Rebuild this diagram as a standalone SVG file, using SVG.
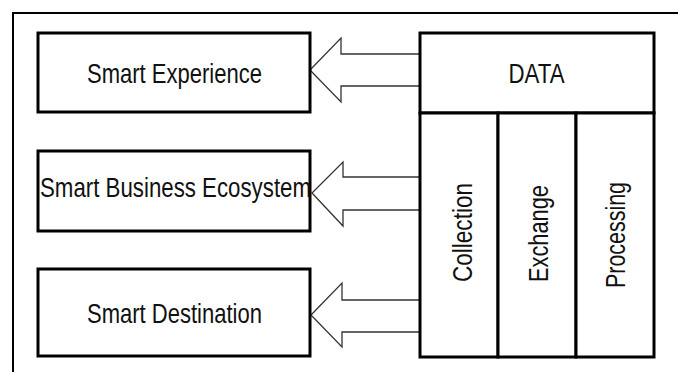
<svg xmlns="http://www.w3.org/2000/svg" width="678" height="372" viewBox="0 0 678 372">
<style>
.frame{fill:none;stroke:#000;stroke-width:2}
.box{fill:#fff;stroke:#000;stroke-width:3}
.arrow{fill:#fff;stroke:#333;stroke-width:1.3;stroke-linejoin:miter}
.lbl{font-family:"Liberation Sans",Arial,sans-serif;font-size:27.5px;fill:#111;text-anchor:middle}
</style>
<rect x="0" y="0" width="678" height="372" fill="#fff"/>
<path class="frame" d="M13 372 V13 H678"/>
<g id="connectors">
<polygon class="arrow" points="420,54 341,54 341,38 310,70 341,102 341,86 420,86"/>
<polygon class="arrow" points="420,177 343,177 343,162 312,193 343,226 343,210 420,210"/>
<polygon class="arrow" points="420,300 342,300 342,283 311,315 342,347 342,332 420,332"/>
</g>
<g id="smart-experience">
<rect class="box" x="38" y="33" width="272" height="79"/>
<text class="lbl" x="174.5" y="83" textLength="175" lengthAdjust="spacingAndGlyphs">Smart Experience</text>
</g>
<g id="smart-business-ecosystem">
<rect class="box" x="38" y="151" width="272" height="80"/>
<text class="lbl" x="175.5" y="197" textLength="271" lengthAdjust="spacingAndGlyphs">Smart Business Ecosystem</text>
</g>
<g id="smart-destination">
<rect class="box" x="38" y="269" width="272" height="87"/>
<text class="lbl" x="174.5" y="323" textLength="175" lengthAdjust="spacingAndGlyphs">Smart Destination</text>
</g>
<g id="data">
<rect class="box" x="420" y="33" width="234" height="80"/>
<text class="lbl" x="536.5" y="83" textLength="56" lengthAdjust="spacingAndGlyphs">DATA</text>
</g>
<g id="collection">
<rect class="box" x="420" y="113" width="78" height="244"/>
<text class="lbl" transform="translate(472,232.5) rotate(-90)" x="0" y="0" textLength="99" lengthAdjust="spacingAndGlyphs">Collection</text>
</g>
<g id="exchange">
<rect class="box" x="498" y="113" width="78" height="244"/>
<text class="lbl" transform="translate(548,233.5) rotate(-90)" x="0" y="0" textLength="97" lengthAdjust="spacingAndGlyphs">Exchange</text>
</g>
<g id="processing">
<rect class="box" x="576" y="113" width="78" height="244"/>
<text class="lbl" transform="translate(625,235) rotate(-90)" x="0" y="0" textLength="106" lengthAdjust="spacingAndGlyphs">Processing</text>
</g>
</svg>
